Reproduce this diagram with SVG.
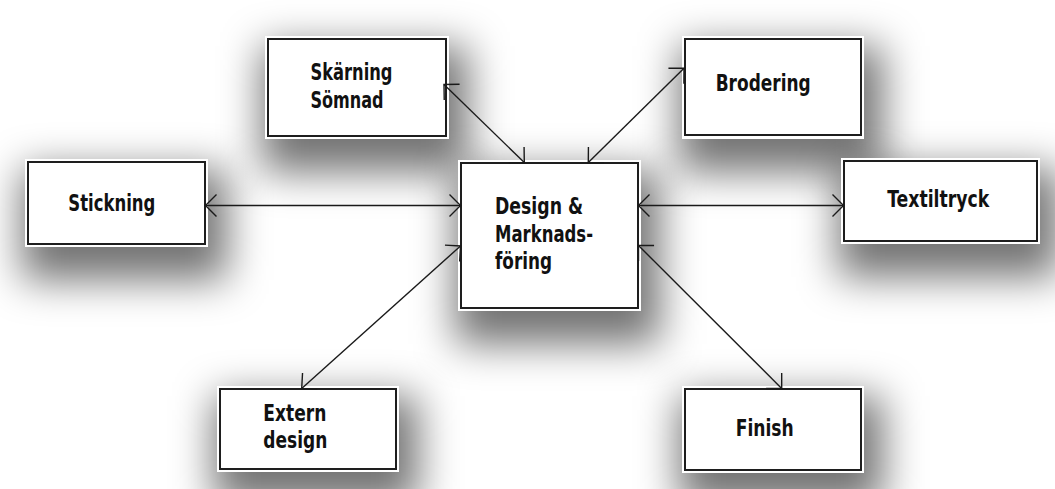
<svg xmlns="http://www.w3.org/2000/svg" width="1055" height="489" viewBox="0 0 1055 489">
  <style>
    .shadow { fill: #000000; fill-opacity: 0.55; filter: url(#blur); }
    .halo { fill: #ffffff; }
    .box { fill: #ffffff; stroke: #1e1e1e; stroke-width: 2; }
    .lbl { font-family: "DejaVu Sans Condensed", "Liberation Sans Narrow", "Liberation Sans", sans-serif; font-weight: bold; font-size: 23px; fill: #111111; }
    .conn { stroke: #1a1a1a; stroke-width: 1.4; fill: none; marker-start: url(#arr); marker-end: url(#arr); }
  </style>
  <defs>
    <filter id="blur" x="-60%" y="-60%" width="220%" height="220%">
      <feGaussianBlur stdDeviation="20"/>
    </filter>
    <marker id="arr" markerUnits="userSpaceOnUse" viewBox="-20 -20 24 40" markerWidth="24" markerHeight="40" refX="0" refY="0" orient="auto-start-reverse" overflow="visible">
      <path d="M -11 -11 L 0 0 L -11 11" fill="none" stroke="#1a1a1a" stroke-width="1.4"/>
    </marker>
  </defs>
  <rect x="0" y="0" width="1055" height="489" fill="#ffffff"/>

  <g id="shadows">
    <rect class="shadow" x="262" y="46" width="206" height="126"/>
    <rect class="shadow" x="679" y="46" width="204" height="126"/>
    <rect class="shadow" x="22" y="169" width="205" height="111"/>
    <rect class="shadow" x="455" y="170" width="205" height="174"/>
    <rect class="shadow" x="838" y="168" width="221" height="109"/>
    <rect class="shadow" x="214" y="396" width="204" height="109"/>
    <rect class="shadow" x="679" y="396" width="204" height="110"/>
  </g>

  <g id="node-skarning">
    <rect class="halo" x="265" y="36" width="184" height="103"/>
    <rect class="box" x="268" y="39" width="178" height="97"/>
    <text class="lbl" x="310.5" y="80" textLength="82" lengthAdjust="spacingAndGlyphs">Skärning</text>
    <text class="lbl" x="310.5" y="108.3" textLength="73" lengthAdjust="spacingAndGlyphs">Sömnad</text>
  </g>

  <g id="node-brodering">
    <rect class="halo" x="682" y="36" width="182" height="103"/>
    <rect class="box" x="685" y="39" width="176" height="96"/>
    <text class="lbl" x="715.7" y="90.7" textLength="95" lengthAdjust="spacingAndGlyphs">Brodering</text>
  </g>

  <g id="node-stickning">
    <rect class="halo" x="25" y="159" width="183" height="88"/>
    <rect class="box" x="28" y="162" width="177" height="82"/>
    <text class="lbl" x="68.3" y="210.7" textLength="87" lengthAdjust="spacingAndGlyphs">Stickning</text>
  </g>

  <g id="node-design">
    <rect class="halo" x="458" y="160" width="183" height="151"/>
    <rect class="box" x="461" y="163" width="177" height="145"/>
    <text class="lbl" x="495" y="214" textLength="88" lengthAdjust="spacingAndGlyphs">Design &amp;</text>
    <text class="lbl" x="495" y="241.7" textLength="98" lengthAdjust="spacingAndGlyphs">Marknads-</text>
    <text class="lbl" x="495" y="269.3" textLength="57" lengthAdjust="spacingAndGlyphs">föring</text>
  </g>

  <g id="node-textiltryck">
    <rect class="halo" x="841" y="158" width="199" height="86"/>
    <rect class="box" x="844" y="161" width="193" height="80"/>
    <text class="lbl" x="887.3" y="206.7" textLength="102" lengthAdjust="spacingAndGlyphs">Textiltryck</text>
  </g>

  <g id="node-extern">
    <rect class="halo" x="217" y="386" width="182" height="86"/>
    <rect class="box" x="220" y="389" width="176" height="80"/>
    <text class="lbl" x="263.3" y="420.7" textLength="63" lengthAdjust="spacingAndGlyphs">Extern</text>
    <text class="lbl" x="263.3" y="448.3" textLength="64" lengthAdjust="spacingAndGlyphs">design</text>
  </g>

  <g id="node-finish">
    <rect class="halo" x="682" y="386" width="182" height="87"/>
    <rect class="box" x="685" y="389" width="176" height="81"/>
    <text class="lbl" x="735.7" y="436" textLength="58" lengthAdjust="spacingAndGlyphs">Finish</text>
  </g>

  <g id="connectors">
    <line class="conn" x1="444" y1="84.5" x2="524.3" y2="162.5"/>
    <line class="conn" x1="684" y1="68.3" x2="588.3" y2="162.5"/>
    <line class="conn" x1="205.5" y1="205.5" x2="460.5" y2="205.5"/>
    <line class="conn" x1="843.5" y1="205.5" x2="638.5" y2="205.5"/>
    <line class="conn" x1="301.7" y1="388.5" x2="460.5" y2="246"/>
    <line class="conn" x1="638.5" y1="245.5" x2="781.7" y2="388.5"/>
  </g>
</svg>
